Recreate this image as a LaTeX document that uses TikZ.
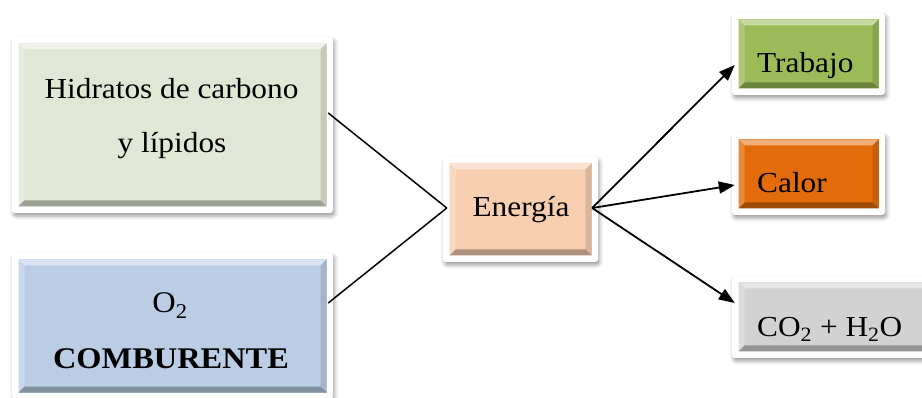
\documentclass[tikz,border=0pt]{standalone}
\usepackage{fontspec}
\setmainfont{Liberation Serif}[FakeStretch=1.08]
\usetikzlibrary{arrows.meta,shadows.blur}

\definecolor{hcfill}{RGB}{224,231,213}
\definecolor{oxfill}{RGB}{186,205,229}
\definecolor{enfill}{RGB}{247,206,176}
\definecolor{trfill}{RGB}{155,187,89}
\definecolor{cafill}{RGB}{226,107,10}
\definecolor{cofill}{RGB}{210,210,210}

\tikzset{
  % white rounded frame with a soft shadow and a bevelled coloured panel inside
  panel/.style={
    fill=white, draw=none, rounded corners=3pt, inner sep=0pt,
    blur shadow={shadow xshift=1.5pt, shadow yshift=-3pt,
                 shadow blur radius=4pt, shadow opacity=40},
    path picture={
      \begin{scope}[sharp corners]
      \coordinate (pnw) at ([shift={(6.5pt,-6.5pt)}]path picture bounding box.north west);
      \coordinate (pse) at ([shift={(-6.5pt,6.5pt)}]path picture bounding box.south east);
      \coordinate (pne) at (pse |- pnw);
      \coordinate (psw) at (pnw |- pse);
      \coordinate (qnw) at ([shift={(6pt,-6pt)}]pnw);
      \coordinate (qse) at ([shift={(-6pt,6pt)}]pse);
      \coordinate (qne) at (qse |- qnw);
      \coordinate (qsw) at (qnw |- qse);
      \fill[#1] (pnw) rectangle (pse);
      \fill[#1!55!white] (pnw) -- (pne) -- (qne) -- (qnw) -- cycle;
      \fill[#1!80!white] (pnw) -- (qnw) -- (qsw) -- (psw) -- cycle;
      \fill[#1!88!black] (pne) -- (pse) -- (qse) -- (qne) -- cycle;
      \fill[#1!70!black] (psw) -- (qsw) -- (qse) -- (pse) -- cycle;
      \end{scope}
    }},
  label/.style={inner sep=0pt, font=\fontsize{29}{31}\selectfont},
  biglabel/.style={inner sep=0pt, font=\fontsize{30}{32}\selectfont},
  link/.style={line width=1.5pt},
  flow/.style={line width=1.8pt, -{Triangle[length=16pt,width=12pt]}}
}

\begin{document}
\begin{tikzpicture}[x=1pt,y=-1pt]
\useasboundingbox (0,0) rectangle (922,398);

% panels
\node[panel=hcfill, minimum width=321pt, minimum height=176pt] (hc) at (172.5,125) {};
\node[panel=oxfill, minimum width=321pt, minimum height=146pt] (ox) at (172.5,326) {};
\node[panel=enfill, minimum width=155pt, minimum height=105pt] (en) at (520.5,209.5) {};
\node[panel=trfill, minimum width=153pt, minimum height=82pt] (tr) at (808.5,54) {};
\node[panel=cafill, minimum width=153pt, minimum height=82pt] (ca) at (808.5,174) {};
\node[panel=cofill, minimum width=213pt, minimum height=82pt] (co) at (838.5,317) {};

% texts
\node[label, anchor=base] (hc1) at (171.5,99) {Hidratos de carbono};
\node[label, anchor=base] (hc2) at (172,153) {y lípidos};
\node[biglabel, anchor=base] (ox1) at (170,313) {O\textsubscript{2}};
\node[biglabel, anchor=base, font=\fontsize{30}{32}\selectfont\bfseries] (ox2) at (171,368) {COMBURENTE};
\node[label, anchor=base] (en1) at (521,217) {Energía};
\node[label, anchor=base west] (tr1) at (757,73) {Trabajo};
\node[label, anchor=base west] (ca1) at (757,193) {Calor};
\node[label, anchor=base west] (co1) at (757,337) {CO\textsubscript{2} + H\textsubscript{2}O};

% connectors
\coordinate (jin) at ([xshift=4pt,yshift=1.5pt]en.west);
\coordinate (jout) at ([xshift=-6pt,yshift=1.5pt]en.east);
\draw[link] ([xshift=-5pt,yshift=12pt]hc.east) -- (jin);
\draw[link] ([xshift=-5pt,yshift=23pt]ox.east) -- (jin);
\draw[flow] (jout) -- ([xshift=3pt,yshift=-11pt]tr.west);
\draw[flow] (jout) -- ([xshift=3pt,yshift=-11pt]ca.west);
\draw[flow] (jout) -- ([xshift=3pt,yshift=14pt]co.west);
\end{tikzpicture}
\end{document}
